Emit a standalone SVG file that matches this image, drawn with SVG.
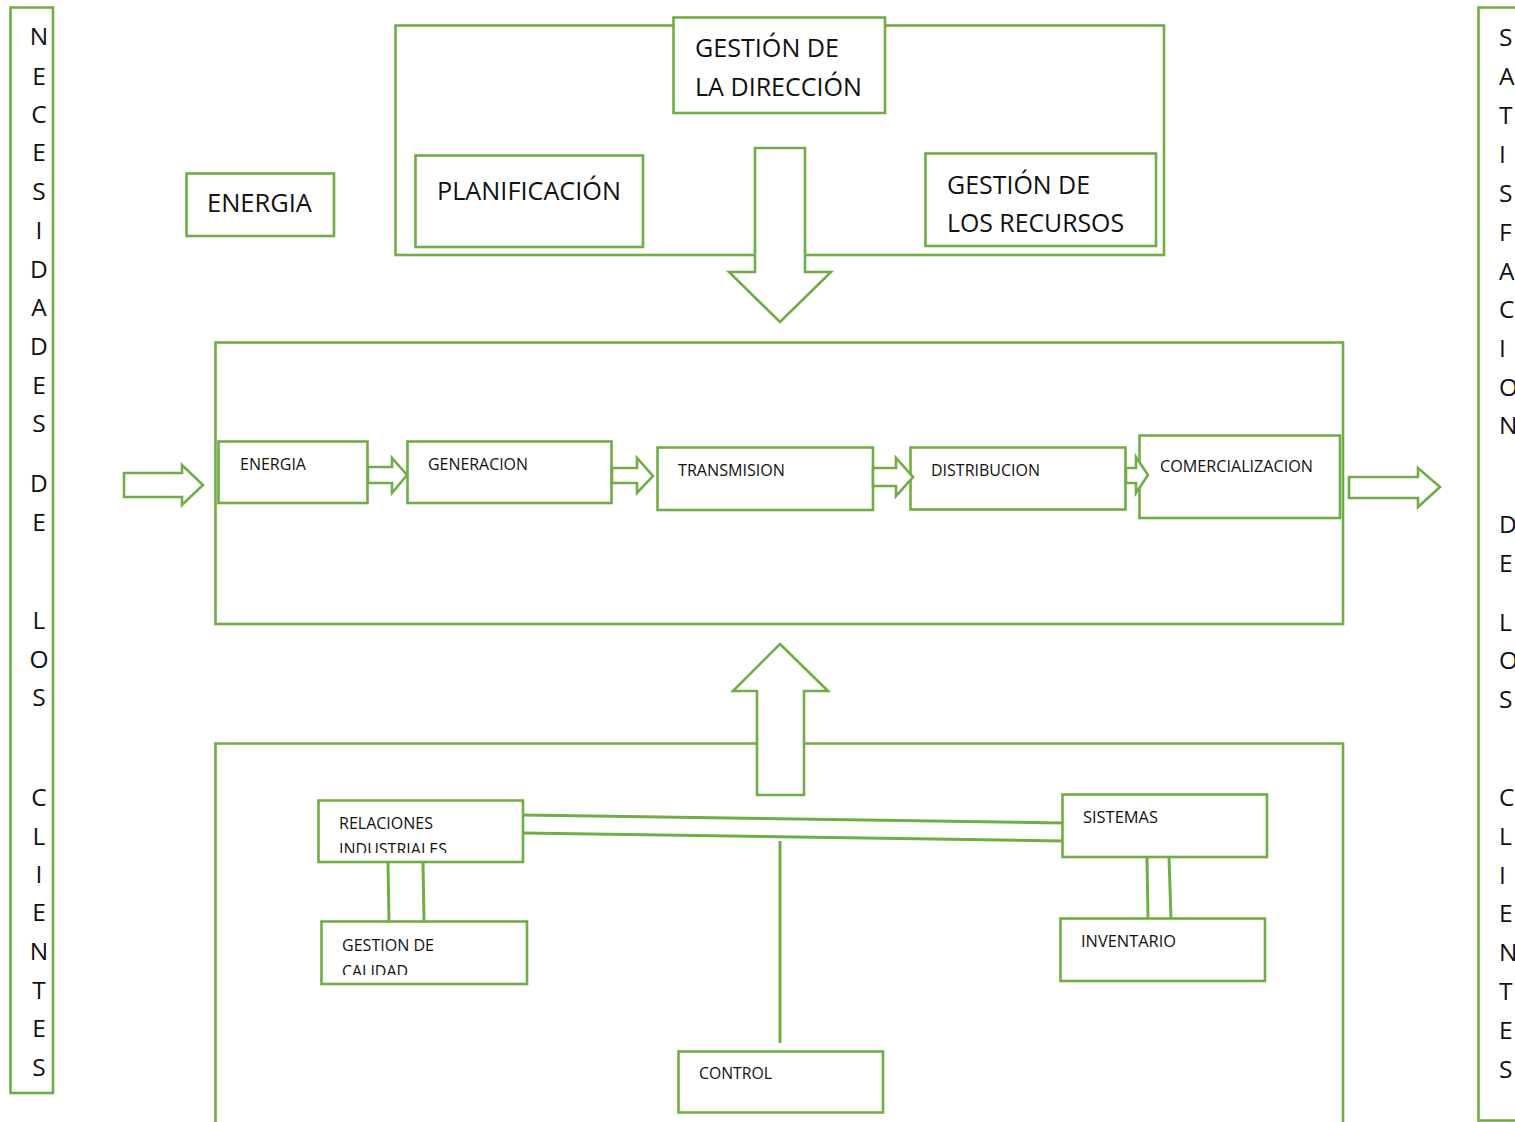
<svg xmlns="http://www.w3.org/2000/svg" width="1515" height="1122" viewBox="0 0 1515 1122">
<style>
.b{fill:#fff;stroke:#70AD47;stroke-width:2.6}
.o{fill:none;stroke:#70AD47;stroke-width:2.6}
.l{fill:none;stroke:#70AD47;stroke-width:3}
.t{font-family:"Open Sans","Liberation Sans",sans-serif;fill:#111}
.big{font-size:25px}
.sm{font-size:16.5px}
.col{font-family:"Open Sans","Liberation Sans",sans-serif;font-size:24.5px;fill:#111}
</style>
<defs>
<clipPath id="cRI"><rect x="318" y="800" width="205" height="53"/></clipPath>
<clipPath id="cGC"><rect x="322" y="922" width="205" height="53"/></clipPath>
</defs>
<rect width="1515" height="1122" fill="#fff"/>

<g id="necesidades">
<rect class="o" x="10.5" y="7.5" width="42.5" height="1085.5"/>
<g class="col" text-anchor="middle">
<text x="39" y="45">N</text><text x="39" y="85">E</text><text x="39" y="123">C</text><text x="39" y="161">E</text><text x="39" y="200">S</text><text x="39" y="239">I</text><text x="39" y="278">D</text><text x="39" y="316">A</text><text x="39" y="355">D</text><text x="39" y="394">E</text><text x="39" y="432">S</text>
<text x="39" y="492">D</text><text x="39" y="531">E</text>
<text x="39" y="629">L</text><text x="39" y="668">O</text><text x="39" y="706">S</text>
<text x="39" y="806">C</text><text x="39" y="845">L</text><text x="39" y="883">I</text><text x="39" y="921">E</text><text x="39" y="960">N</text><text x="39" y="999">T</text><text x="39" y="1037">E</text><text x="39" y="1076">S</text>
</g>
</g>

<g id="satisfaccion">
<rect class="o" x="1478.5" y="7.5" width="60" height="1113"/>
<g class="col">
<text x="1499" y="46">S</text><text x="1499" y="85">A</text><text x="1499" y="124">T</text><text x="1499" y="163">I</text><text x="1499" y="202">S</text><text x="1499" y="241">F</text><text x="1499" y="280">A</text><text x="1499" y="318">C</text><text x="1499" y="357">I</text><text x="1499" y="396">O</text><text x="1499" y="434">N</text>
<text x="1499" y="533">D</text><text x="1499" y="572">E</text>
<text x="1499" y="631">L</text><text x="1499" y="669">O</text><text x="1499" y="708">S</text>
<text x="1499" y="806">C</text><text x="1499" y="845">L</text><text x="1499" y="884">I</text><text x="1499" y="922">E</text><text x="1499" y="961">N</text><text x="1499" y="1000">T</text><text x="1499" y="1039">E</text><text x="1499" y="1078">S</text>
</g>
</g>

<g id="direccion-grupo">
<rect class="o" x="395.5" y="25.5" width="768.5" height="229.5"/>
</g>
<g id="gestion-direccion">
<rect class="b" x="673.5" y="17.5" width="211.5" height="95.5"/>
<text class="t big" x="695" y="57" textLength="144" lengthAdjust="spacingAndGlyphs">GESTIÓN DE</text>
<text class="t big" x="695" y="96" textLength="167" lengthAdjust="spacingAndGlyphs">LA DIRECCIÓN</text>
</g>
<g id="planificacion">
<rect class="b" x="415.5" y="155.5" width="227.5" height="91.5"/>
<text class="t big" x="437" y="200" textLength="184" lengthAdjust="spacingAndGlyphs">PLANIFICACIÓN</text>
</g>
<g id="gestion-recursos">
<rect class="b" x="925.5" y="153.5" width="230.5" height="92.5"/>
<text class="t big" x="947" y="194" textLength="143" lengthAdjust="spacingAndGlyphs">GESTIÓN DE</text>
<text class="t big" x="947" y="232" textLength="177" lengthAdjust="spacingAndGlyphs">LOS RECURSOS</text>
</g>
<g id="energia-top">
<rect class="b" x="186.5" y="173.5" width="147.5" height="62.5"/>
<text class="t big" x="207" y="212" textLength="105" lengthAdjust="spacingAndGlyphs">ENERGIA</text>
</g>

<g id="proceso">
<rect class="o" x="215.5" y="342.5" width="1127.5" height="281.5"/>
</g>
<g id="energia">
<rect class="b" x="218.5" y="441.5" width="149" height="61.5"/>
<text class="t sm" x="240" y="470" textLength="66" lengthAdjust="spacingAndGlyphs">ENERGIA</text>
</g>
<g id="generacion">
<rect class="b" x="407.5" y="441.5" width="204" height="61.5"/>
<text class="t sm" x="428" y="470" textLength="100" lengthAdjust="spacingAndGlyphs">GENERACION</text>
</g>
<g id="transmision">
<rect class="b" x="657.5" y="447.5" width="215.5" height="62.5"/>
<text class="t sm" x="678" y="476" textLength="107" lengthAdjust="spacingAndGlyphs">TRANSMISION</text>
</g>
<g id="distribucion">
<rect class="b" x="910.5" y="447.5" width="215" height="62"/>
<text class="t sm" x="931" y="476" textLength="109" lengthAdjust="spacingAndGlyphs">DISTRIBUCION</text>
</g>
<g id="comercializacion">
<rect class="b" x="1139.5" y="435.5" width="200.5" height="82.5"/>
<text class="t sm" x="1160" y="472" textLength="153" lengthAdjust="spacingAndGlyphs">COMERCIALIZACION</text>
</g>

<g id="soporte">
<rect class="o" x="215.5" y="743.5" width="1127.5" height="400"/>
</g>
<g id="relaciones-industriales">
<rect class="b" x="318.5" y="800.5" width="204.5" height="61.5"/>
<text class="t sm" x="339" y="829" textLength="94" lengthAdjust="spacingAndGlyphs">RELACIONES</text>
<text class="t sm" x="339" y="855" textLength="108" lengthAdjust="spacingAndGlyphs" clip-path="url(#cRI)">INDUSTRIALES</text>
</g>
<g id="gestion-calidad">
<rect class="b" x="321.5" y="921.5" width="205.5" height="62.5"/>
<text class="t sm" x="342" y="951" textLength="92" lengthAdjust="spacingAndGlyphs">GESTION DE</text>
<text class="t sm" x="342" y="977" textLength="66" lengthAdjust="spacingAndGlyphs" clip-path="url(#cGC)">CALIDAD</text>
</g>
<g id="sistemas">
<rect class="b" x="1062.5" y="794.5" width="204.5" height="62.5"/>
<text class="t sm" x="1083" y="823" textLength="75" lengthAdjust="spacingAndGlyphs">SISTEMAS</text>
</g>
<g id="inventario">
<rect class="b" x="1060.5" y="918.5" width="204.5" height="62.5"/>
<text class="t sm" x="1081" y="947" textLength="95" lengthAdjust="spacingAndGlyphs">INVENTARIO</text>
</g>
<g id="control">
<rect class="b" x="678.5" y="1051.5" width="204.5" height="61"/>
<text class="t sm" x="699" y="1079" textLength="73" lengthAdjust="spacingAndGlyphs">CONTROL</text>
</g>

<g id="connectors">
<polygon class="b" points="755,148 805,148 805,272 831,272 780,322 729,272 755,272"/>
<polygon class="b" points="780,644 828,691 804,691 804,795 757,795 757,691 733,691"/>
<polygon class="b" points="124,473 182,473 182,465 203,485 182,505 182,497 124,497"/>
<polygon class="b" points="1349,477 1418,477 1418,468 1440,487 1418,507 1418,498 1349,498"/>
<polygon class="b" points="368,467 392,467 392,458 407,475 392,493 392,483 368,483"/>
<polygon class="b" points="612,468 637,468 637,458 653,476 637,493 637,483 612,483"/>
<polygon class="b" points="873,468 896,468 896,458 913,477 896,496 896,486 873,486"/>
<polygon class="b" points="1126,468 1136,468 1136,457 1148,475 1136,493 1136,483 1126,483"/>
<line class="l" x1="523" y1="815" x2="1063" y2="823"/>
<line class="l" x1="523" y1="833" x2="1063" y2="841"/>
<line class="l" x1="388" y1="862" x2="389" y2="922"/>
<line class="l" x1="423" y1="862" x2="424" y2="922"/>
<line class="l" x1="1147" y1="857" x2="1148" y2="918"/>
<line class="l" x1="1169" y1="857" x2="1171" y2="918"/>
<line class="l" x1="780" y1="841" x2="780" y2="1043"/>
</g>
</svg>
